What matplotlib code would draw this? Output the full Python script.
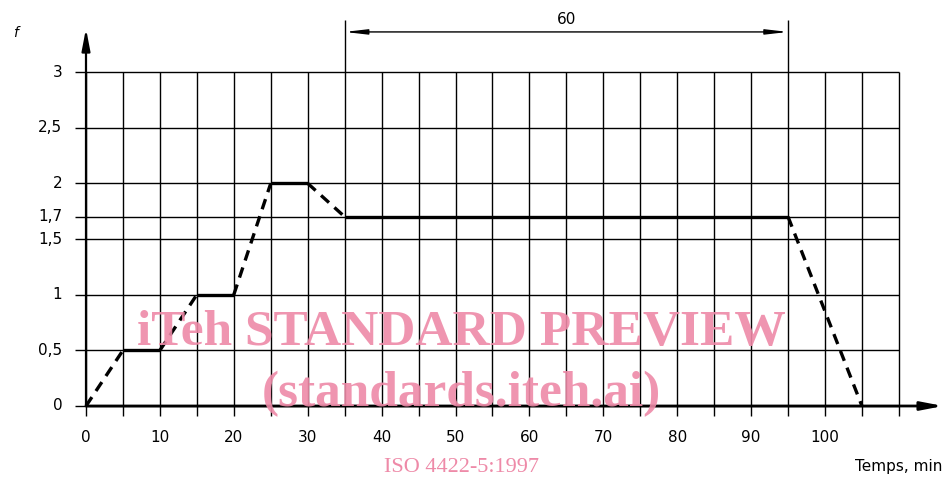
import matplotlib
matplotlib.use("Agg")
import matplotlib.pyplot as plt

# profile f(t): time in minutes, factor f
TIME = [0, 5, 10, 15, 20, 25, 30, 35, 95, 105]
FACTOR = [0, 0.5, 0.5, 1, 1, 2, 2, 1.7, 1.7, 0]
# True = plateau (solid), False = ramp (dashed), one per segment
SOLID = [False, True, False, True, False, True, False, True, False]

X_TICKS = list(range(0, 101, 10))
X_GRID = list(range(0, 111, 5))
Y_GRID = [0, 0.5, 1, 1.5, 1.7, 2, 2.5, 3]
Y_LABELS = ["0", "0,5", "1", "1,5", "1,7", "2", "2,5", "3"]
DIM_SPAN = (35, 95)
DIM_TEXT = "60"

INK = "#000000"
PINK = "#ee8aa8"
FONT = "DejaVu Sans"

fig = plt.figure(figsize=(9.43, 4.78), dpi=100)
ax = fig.add_axes([0, 0, 1, 1])
ax.set_xlim(-86 / 7.39, (943 - 86) / 7.39)
ax.set_ylim((406 - 478) / 111.33, 406 / 111.33)
ax.axis("off")

# grid
ax.vlines(X_GRID, -0.09, 3, color=INK, linewidth=1.0, zorder=1)
ax.hlines(Y_GRID, -1.5, 110, color=INK, linewidth=1.0, zorder=1)

# axes with arrows
ax.annotate("", xy=(0, 3.39), xytext=(0, 0),
            arrowprops=dict(arrowstyle="-|>,head_length=1.3,head_width=0.25",
                            color=INK, lw=1.6, shrinkA=0, shrinkB=0))
ax.annotate("", xy=(116, 0), xytext=(0, 0),
            arrowprops=dict(arrowstyle="-|>,head_length=1.3,head_width=0.25",
                            color=INK, lw=2.0, shrinkA=0, shrinkB=0))

# dimension line
for xv in DIM_SPAN:
    ax.vlines(xv, 3, 3.47, color=INK, linewidth=1.0)
ax.annotate("", xy=(DIM_SPAN[0], 3.36), xytext=(DIM_SPAN[1], 3.36),
            arrowprops=dict(arrowstyle="<|-|>,head_length=1.3,head_width=0.15",
                            color=INK, lw=1.0, shrinkA=0, shrinkB=0))
ax.text(sum(DIM_SPAN) / 2, 3.47, DIM_TEXT, ha="center", va="center",
        fontsize=11, family=FONT, color=INK)

# curve
for i, solid in enumerate(SOLID):
    ax.plot(TIME[i:i + 2], FACTOR[i:i + 2], color=INK, linewidth=2.4,
            linestyle="-" if solid else (0, (3.2, 2.2)),
            solid_capstyle="butt", dash_capstyle="butt", zorder=3)

# tick labels
for xv in X_TICKS:
    ax.text(xv, -0.28, str(xv), ha="center", va="center",
            fontsize=11, family=FONT, color=INK)
for yv, lab in zip(Y_GRID, Y_LABELS):
    ax.text(-3.2, yv, lab, ha="right", va="center",
            fontsize=11, family=FONT, color=INK)
ax.text(-9.6, 3.35, "f", ha="center", va="center", fontsize=10,
        family=FONT, style="italic", color=INK)
ax.text(115.9, -0.54, "Temps, min", ha="right", va="center",
        fontsize=11, family=FONT, color=INK)

# watermark
ax.text(50.8, 0.66, "iTeh STANDARD PREVIEW", ha="center", va="center",
        fontsize=37, family="Liberation Serif", weight="bold",
        color=PINK, alpha=0.9, zorder=4)
ax.text(50.8, 0.11, "(standards.iteh.ai)", ha="center", va="center",
        fontsize=37, family="Liberation Serif", weight="bold",
        color=PINK, alpha=0.9, zorder=4)
ax.text(50.8, -0.55, "ISO 4422-5:1997", ha="center", va="center",
        fontsize=16, family="Liberation Serif", color=PINK, zorder=4)

fig.savefig("out.png", dpi=100)
